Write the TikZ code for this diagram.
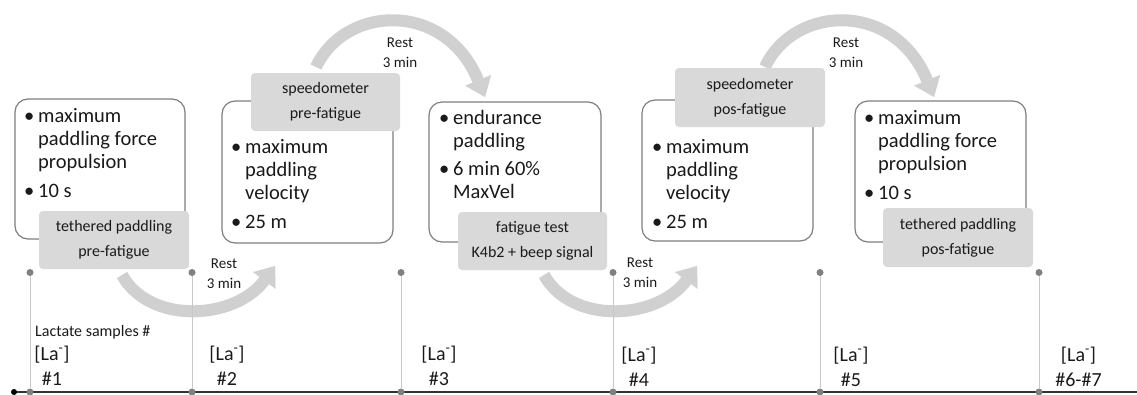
\documentclass[tikz,border=0pt]{standalone}
\usepackage{fontspec}
\setmainfont{Carlito}
\usetikzlibrary{arrows.meta}
\definecolor{boxline}{HTML}{7F7F7F}
\definecolor{labfill}{HTML}{D9D9D9}
\definecolor{arrfill}{HTML}{D0D0D0}
\definecolor{vline}{HTML}{C8C8C8}
\definecolor{dotgray}{HTML}{808080}
\definecolor{txt}{HTML}{1A1A1A}
\definecolor{tline}{HTML}{333333}
\newcommand{\bt}{\makebox[13pt][l]{\hspace*{-1pt}\textbullet}}
\begin{document}
\begin{tikzpicture}[x=1pt,y=-1pt,
  bigbox/.style={draw=boxline,line width=1.2pt,rounded corners=13pt,fill=white,inner sep=0pt},
  labbox/.style={fill=labfill,rounded corners=4pt,inner sep=0pt,minimum width=150pt,minimum height=58pt,align=center,font=\fontsize{16}{25}\selectfont,text=txt},
  bullettext/.style={anchor=base west,inner sep=0pt,font=\fontsize{20.5}{23.3}\selectfont,text=txt},
  resttext/.style={anchor=base,inner sep=0pt,font=\fontsize{15}{20}\selectfont,text=txt},
  samptext/.style={anchor=base,inner sep=0pt,font=\fontsize{20}{25}\selectfont,text=txt},
  restarrow/.style={draw=arrfill,line width=12pt,-{Triangle[length=18pt,width=28pt,line width=0.1pt]}},
  dotnode/.style={circle,fill=dotgray,inner sep=0pt,minimum size=7pt},
  enddot/.style={circle,fill=black,inner sep=0pt,minimum size=6pt},
  vl/.style={draw=vline,line width=0.8pt},
  timeline/.style={draw=tline,line width=1.6pt}
]
\useasboundingbox (0,0) rectangle (1137,394);

% rest arrows
\coordinate (a1s) at (122,275); \coordinate (a1e) at (275,266);
\coordinate (a2s) at (316,67);  \coordinate (a2e) at (485,97);
\coordinate (a3s) at (544,275); \coordinate (a3e) at (697,266);
\coordinate (a4s) at (765,67);  \coordinate (a4e) at (934,97);
\draw[restarrow] (a1s) .. controls (150,325) and (235,320) .. (a1e);
\draw[restarrow] (a2s) .. controls (345,5) and (445,0) .. (a2e);
\draw[restarrow] (a3s) .. controls (572,325) and (657,320) .. (a3e);
\draw[restarrow] (a4s) .. controls (794,5) and (894,0) .. (a4e);

% timeline
\coordinate (tl0) at (14,392); \coordinate (tl1) at (1137,392);
\draw[timeline] (tl0) -- (tl1);
\node[enddot] (e0) at (tl0) {};
\foreach \i/\x in {1/30,2/192,3/401,4/613,5/820,6/1039}{
  \node[dotnode] (t\i) at (\x,272.5) {};
  \node[dotnode] (b\i) at (\x,392) {};
  \draw[vl] (t\i) -- (b\i);
}

% big boxes
\node[bigbox,minimum width=170pt,minimum height=140pt] (box1) at (100,169) {};
\node[bigbox,minimum width=171pt,minimum height=142pt] (box2) at (307.5,172) {};
\node[bigbox,minimum width=172pt,minimum height=140pt] (box3) at (515,172) {};
\node[bigbox,minimum width=171pt,minimum height=141pt] (box4) at (727.5,170.5) {};
\node[bigbox,minimum width=171pt,minimum height=141pt] (box5) at (940.5,171.5) {};

\node[bullettext] (tx1) at (25,122) {\begin{tabular}[t]{@{}l@{}l@{}}\bt&maximum\\&paddling force\\&propulsion\\[6pt]\bt&10 s\end{tabular}};
\node[bullettext] (tx2) at (232,153) {\begin{tabular}[t]{@{}l@{}l@{}}\bt&maximum\\&paddling\\&velocity\\[6pt]\bt&25 m\end{tabular}};
\node[bullettext] (tx3) at (440,124) {\begin{tabular}[t]{@{}l@{}l@{}}\bt&endurance\\&paddling\\[5pt]\bt&6 min 60\%\\&MaxVel\end{tabular}};
\node[bullettext] (tx4) at (653,153) {\begin{tabular}[t]{@{}l@{}l@{}}\bt&maximum\\&paddling\\&velocity\\[6pt]\bt&25 m\end{tabular}};
\node[bullettext] (tx5) at (865,124) {\begin{tabular}[t]{@{}l@{}l@{}}\bt&maximum\\&paddling force\\&propulsion\\[6pt]\bt&10 s\end{tabular}};

% grey labels
\node[labbox] (lab1) at (114,240) {tethered paddling\\pre-fatigue};
\node[labbox,minimum width=149pt] (lab2) at (325.5,102) {speedometer\\pre-fatigue};
\node[labbox,minimum width=149pt] (lab3) at (532.5,241) {fatigue test\\K4b2 + beep signal};
\node[labbox,minimum height=59pt] (lab4) at (750,97.5) {speedometer\\pos-fatigue};
\node[labbox,minimum height=59pt] (lab5) at (958,237.5) {tethered paddling\\pos-fatigue};

% rest texts
\node[resttext] (r1) at (224,268) {\begin{tabular}[t]{@{}c@{}}Rest\\3 min\end{tabular}};
\node[resttext] (r2) at (400,47) {\begin{tabular}[t]{@{}c@{}}Rest\\3 min\end{tabular}};
\node[resttext] (r3) at (640,267) {\begin{tabular}[t]{@{}c@{}}Rest\\3 min\end{tabular}};
\node[resttext] (r4) at (846,47) {\begin{tabular}[t]{@{}c@{}}Rest\\3 min\end{tabular}};

% lactate samples
\node[anchor=base west,inner sep=0pt,font=\fontsize{16}{18}\selectfont,text=txt] (lac) at (35,336) {Lactate samples \#};
\node[samptext] (s1) at (52,360) {\begin{tabular}[t]{@{}c@{}}[La\textsuperscript{-}]\\\#1\end{tabular}};
\node[samptext] (s2) at (227,360) {\begin{tabular}[t]{@{}c@{}}[La\textsuperscript{-}]\\\#2\end{tabular}};
\node[samptext] (s3) at (439,360) {\begin{tabular}[t]{@{}c@{}}[La\textsuperscript{-}]\\\#3\end{tabular}};
\node[samptext] (s4) at (639,361) {\begin{tabular}[t]{@{}c@{}}[La\textsuperscript{-}]\\\#4\end{tabular}};
\node[samptext] (s5) at (851,361) {\begin{tabular}[t]{@{}c@{}}[La\textsuperscript{-}]\\\#5\end{tabular}};
\node[samptext] (s6) at (1078.5,361) {\begin{tabular}[t]{@{}c@{}}[La\textsuperscript{-}]\\\#6-\#7\end{tabular}};
\end{tikzpicture}
\end{document}
